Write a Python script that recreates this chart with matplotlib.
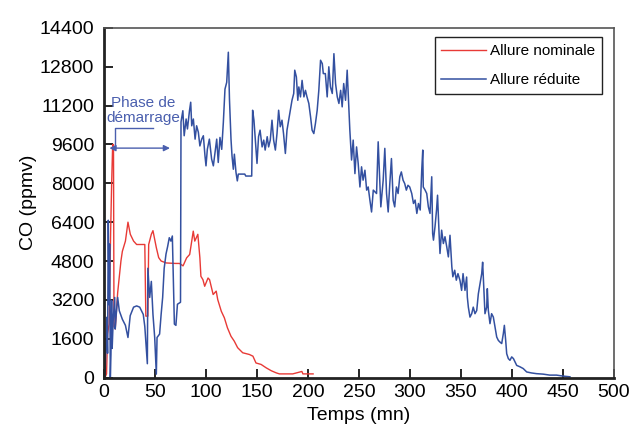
import numpy as np
import matplotlib
matplotlib.use("Agg")
import matplotlib.pyplot as plt

plt.rcParams['font.family'] = ['Liberation Sans', 'DejaVu Sans']

# allure nominale (red)
t_nom = [0, 1, 2.5, 3.5, 5, 6.5, 7.5, 8.5, 9.3, 9.8, 11, 13.4, 15, 16.6, 18, 21, 23.5, 25.8, 29,
         32, 40, 41, 43, 43.8, 46.4, 48, 51.3, 53.6, 56, 61, 70, 74, 77.5, 81, 84, 87.5, 89, 92,
         94, 95, 97, 98.7, 102, 103.5, 107, 110, 111.5, 115, 118, 121, 124.5, 127.7, 131, 136,
         142.5, 146, 149, 154, 159, 164, 169, 172, 185, 194, 195, 205]
co_nom = [0, 0, 150, 1800, 2200, 6000, 8000, 9600, 9600, 2100, 2000, 3500, 4150, 4800, 5200, 5620,
          6400, 5900, 5620, 5480, 5480, 2530, 2530, 5480, 5900, 6050, 5350, 4940, 4800, 4720, 4700,
          4700, 4600, 4930, 5070, 6030, 5620, 5900, 4930, 4170, 4030, 3760, 4100, 4030, 3420, 3560,
          3210, 2730, 2460, 2050, 1700, 1500, 1230, 1020, 950, 880, 600, 540, 400, 280, 190, 150,
          150, 250, 150, 150]

# allure reduite (blue)
t_red = [0, 1, 2.6, 3.5, 4.2, 5, 5.5, 6.2, 6.8, 7.5, 8, 9, 10.5, 11, 12, 13.4, 15, 18, 21, 23.5,
         25.7, 29, 32, 35, 38.5, 40, 42.5, 43, 44.8, 46.4, 48, 49.7, 51.3, 52, 54.5, 56, 57.5, 59,
         60.8, 62.4, 64, 65.6, 67, 69, 70.5, 72, 75, 75.5, 77.3, 78.6, 80.5, 81.8, 83.8, 85, 86,
         87.6, 89.3, 90.8, 92.5, 94, 95.8, 97.4, 99, 100, 101.3, 103.3, 105.5, 107.2, 108.8, 110.5,
         112, 113.7, 115.4, 117, 118.6, 120.3, 121.9, 123, 124.5, 125.5, 126.8, 127.8, 129.4, 130.7,
         131.7, 138, 139, 144.8, 145.7, 147, 149, 150, 151.5, 153, 155, 156.6, 158, 160, 161.4, 163,
         164.7, 166.3, 168, 169.6, 171.2, 172.8, 174.5, 176, 177.8, 179.4, 181, 182.7, 184.3, 186,
         187, 188.6, 190, 191, 192.6, 194.2, 196, 197.5, 199, 200.8, 202.5, 204, 205.7, 207.3, 209,
         210.6, 212.3, 214, 215, 217, 218.8, 220.4, 222, 223.8, 225.4, 227, 228.7, 230.3, 232,
         233.5, 235, 236.8, 238.4, 240, 241, 242.7, 244.3, 246, 247.6, 249.2, 250.9, 252.5, 254,
         255.8, 257.5, 259, 260.7, 262.3, 264, 267.2, 268.8, 269.8, 271.4, 273.7, 275.3, 277,
         278.6, 280.2, 281.8, 283.5, 285, 286.7, 288.3, 290, 291.5, 293.2, 294.8, 296.4, 298,
         299.7, 301.7, 303.4, 305, 306.7, 308.3, 310, 311.5, 312.5, 313, 314.8, 316.4, 318, 319.6,
         321.3, 322.2, 323, 324.5, 326, 327, 328.5, 329.4, 331, 332.7, 334.3, 336, 337.6, 339.2,
         341, 342, 343.8, 345.4, 347, 349, 350.6, 352, 353.9, 355.5, 356.2, 357.2, 358.8, 360.5,
         362, 363.7, 365.4, 367, 368.6, 370.3, 371.2, 372.5, 373.5, 375.2, 375.8, 376.8, 378.4,
         380, 381.7, 383.3, 385, 386.6, 388.2, 389.9, 391.5, 392.5, 393.8, 394.8, 396.4, 398,
         399.7, 401.4, 403, 404.6, 407.9, 411, 414.4, 419, 424, 430.6, 437, 443.6, 450, 456.8]
co_red = [0, 0, 2480, 1000, 6480, 3000, 5500, 0, 950, 3170, 1200, 2350, 3300, 2000, 2600, 3300,
          2750, 2400, 2150, 1650, 2550, 2900, 2950, 2900, 2600, 2100, 570, 4500, 3300, 3960, 2600,
          1650, 140, 1650, 1790, 2600, 3300, 4500, 5090, 5400, 5760, 5620, 5830, 2200, 2150, 3020,
          3100, 10530, 10990, 9960, 10650, 10240, 10990, 11340, 10370, 10650, 9820, 10370, 10100,
          9540, 9820, 9960, 9130, 8720, 9400, 9820, 9000, 8720, 9270, 9820, 8860, 9890, 9400,
          10510, 11880, 12160, 13400, 11470, 9820, 9130, 8580, 9200, 8450, 8100, 8380, 8380, 8300,
          8300, 11010, 10600, 9370, 8820, 9920, 10190, 9500, 9780, 9370, 9920, 9500, 9780, 10600,
          9780, 9370, 10050, 11010, 10330, 10600, 10050, 9230, 10190, 10600, 11010, 11420, 11700,
          12660, 12380, 11420, 11970, 11560, 12240, 11560, 11830, 11560, 11290, 10740, 10190,
          10050, 10470, 11010, 11830, 13070, 12930, 12520, 12520, 11560, 12800, 11970, 11700,
          13340, 12110, 11560, 11290, 11830, 11150, 12110, 11420, 12660, 11150, 10200, 8960, 9780,
          8400, 9500, 8820, 7850, 8680, 8130, 8540, 7720, 7850, 7300, 6820, 7720, 7580, 9710, 8680,
          7030, 8130, 9440, 7580, 6820, 7990, 9020, 7300, 7030, 7850, 7580, 8270, 8470, 8130, 7990,
          7720, 7920, 7850, 7580, 7170, 7310, 6760, 7170, 6900, 8540, 9370, 7850, 7720, 7580, 7030,
          6760, 8270, 5930, 5660, 6210, 6900, 7510, 5930, 5110, 6070, 5520, 5800, 5390, 4970, 5860,
          4560, 4150, 4420, 4010, 4280, 4000, 3590, 4280, 3590, 4140, 3310, 2900, 2490, 2630, 2900,
          2630, 2760, 3450, 3860, 4280, 4750, 3590, 2630, 2900, 3660, 2760, 2220, 2630, 2490, 2080,
          1670, 1530, 1460, 1400, 1810, 2150, 1530, 980, 780, 710, 850, 780, 640, 500, 440, 370,
          230, 190, 160, 140, 100, 100, 60, 30]

xticks = np.arange(0, 501, 50)
yticks = np.arange(0, 14401, 1600)

red = '#e83a36'
blue = '#3350a0'
note = '#4a5fae'

fig = plt.figure(figsize=(6.33, 4.3), dpi=100)
ax = fig.add_axes([0.1643, 0.122, 0.8057, 0.813])

ax.plot(t_nom, co_nom, color=red, lw=1.0, label='Allure nominale')
ax.plot(t_red, co_red, color=blue, lw=1.1, label='Allure réduite')

# phase de demarrage
ax.annotate('', xy=(2.6, 9450), xytext=(67.4, 9450),
            arrowprops=dict(arrowstyle='<|-|>', color=note, lw=1.0, mutation_scale=9))
ax.plot([10.8, 10.8, 48.3], [9450, 10290, 10290], color=note, lw=1.0)
ax.text(38.5, 11000, 'Phase de\ndémarrage', color=note, fontsize=11, ha='center',
        va='center', linespacing=1.1)

ax.set_xlim(0, 500)
ax.set_ylim(0, 14400)
ax.set_xticks(xticks)
ax.set_yticks(yticks)
ax.tick_params(direction='in', length=6.5, width=1.2, labelsize=14, top=False, right=False)
ax.tick_params(axis='y', pad=7)
ax.tick_params(axis='x', pad=5)
for s in ['left', 'bottom']:
    ax.spines[s].set_linewidth(2)
    ax.spines[s].set_color('#222222')
for s in ['top', 'right']:
    ax.spines[s].set_linewidth(1.2)
    ax.spines[s].set_color('#555555')

ax.set_xlabel('Temps (mn)', fontsize=14, labelpad=4)
ax.set_ylabel('CO (ppmv)', fontsize=14, labelpad=2)

leg = ax.legend(loc='upper right', bbox_to_anchor=(0.9515, 0.9133),
                bbox_transform=fig.transFigure, borderaxespad=0, fontsize=11,
                handlelength=2.9, labelspacing=1.0, fancybox=False, framealpha=1,
                edgecolor='#222222', borderpad=0.45, handletextpad=0.3)
leg.get_frame().set_linewidth(1.0)

fig.savefig('out.png', dpi=100)
